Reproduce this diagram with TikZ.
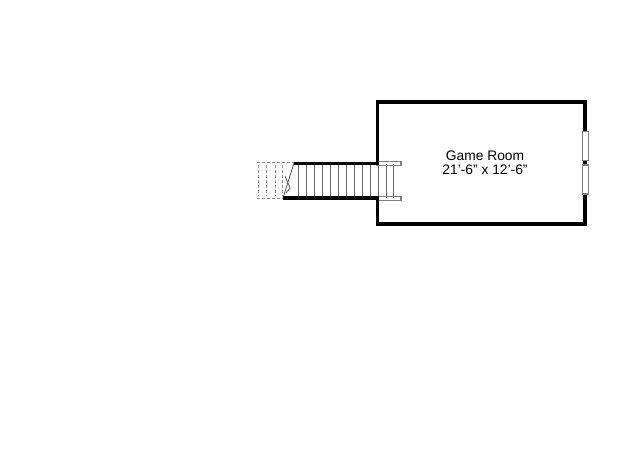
\documentclass[tikz,border=0pt]{standalone}
\usepackage{fontspec}
\setmainfont{Liberation Sans}
\definecolor{railgray}{gray}{0.5}
\definecolor{treadgray}{gray}{0.4}
\definecolor{dashgray}{gray}{0.55}
\tikzset{
  wall/.style={line width=3.7pt,black,line cap=butt,line join=miter},
  rail/.style={draw=railgray,fill=white,line width=1.1pt},
  tread/.style={treadgray,line width=0.8pt},
  ghost/.style={dashgray,line width=0.8pt,dash pattern=on 2.5pt off 2.5pt},
  breakline/.style={black!65,line width=0.8pt},
  label/.style={align=center,font=\fontsize{13.8}{13.6}\selectfont,text=black,inner sep=0pt}
}
\begin{document}
\begin{tikzpicture}[x=1pt,y=-1pt]
\useasboundingbox[fill=white] (0,0) rectangle (640,460);
% stair rails past the wall
\draw[rail] (377,161.8) rectangle (401,165.6);
\draw[rail] (377,196.8) rectangle (401,200.6);
% treads
\foreach \x in {298.3,306.3,314.3,322.3,330.3,338.3,346.3,354.3,362.3,370.3,378,386,393.5} {\draw[tread] (\x,164) -- (\x,198);}
% continuation of the stair above the break
\foreach \x in {258,266.5,275,282} {\draw[ghost] (\x,165) -- (\x,196);}
\draw[ghost] (257,162) -- (294,162);
\draw[ghost] (257,198.5) -- (283,198.5);
% break line
\draw[breakline] (294,163) -- (283,198);
\draw[breakline] (285,176) -- (290,188) -- (286,193);
% stair walls
\draw[wall] (294,163.6) -- (379,163.6);
\draw[wall] (283,198.2) -- (379,198.2);
% room walls
\draw[wall] (377.5,163.6) -- (377.5,102) -- (585,102) -- (585,224) -- (377.5,224) -- (377.5,198.2);
% windows
\draw[rail] (582.8,131.5) rectangle (588.8,160.5);
\draw[rail] (582.8,165) rectangle (588.8,194);
% label
\node[label] (room) at (485,162.5) {Game Room\\21'-6" x 12'-6"};
\end{tikzpicture}
\end{document}
